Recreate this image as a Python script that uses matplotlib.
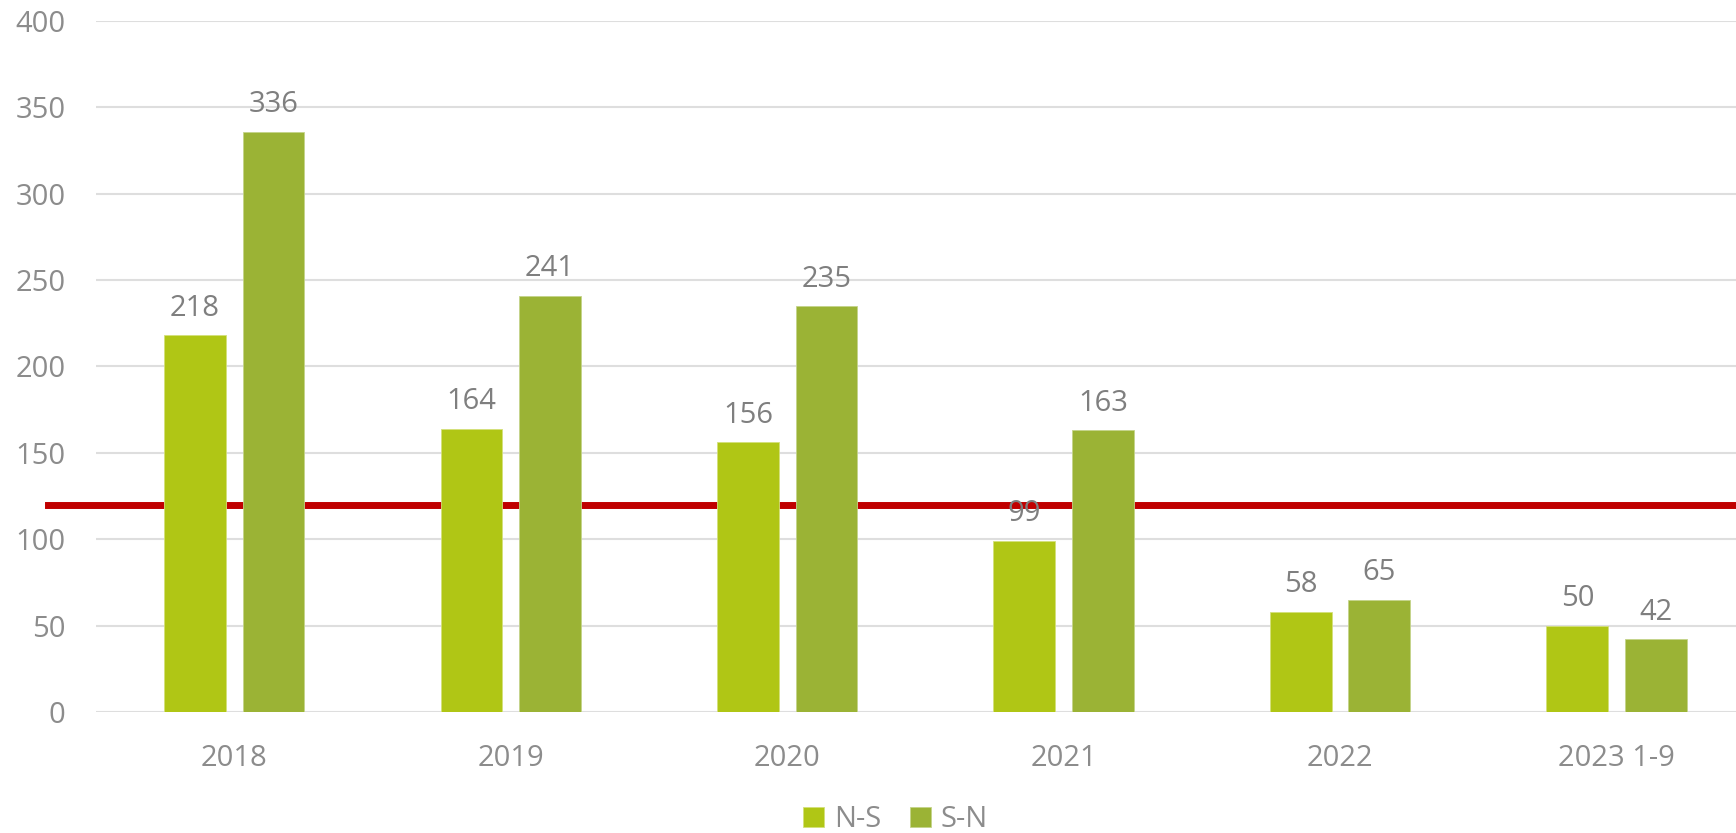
import matplotlib.pyplot as plt
import numpy as np

plt.rcParams['font.family'] = ['Open Sans', 'DejaVu Sans']

# Daten
years = ['2018', '2019', '2020', '2021', '2022', '2023 1-9']
ns = [218, 164, 156, 99, 58, 50]
sn = [336, 241, 235, 163, 65, 42]
limit = 120

c_ns = '#B0C615'
c_sn = '#9BB335'
grey = '#8C8C8C'

fig = plt.figure(figsize=(17.36, 8.33), dpi=100)
ax = fig.add_axes([0.0553, 0.1453, 0.9556, 0.8295])

x = np.arange(len(years))
w = 0.224
off = 0.142

b1 = ax.bar(x - off, ns, w, color=c_ns, edgecolor='#d4e07a', linewidth=0.6, label='N-S', zorder=3)
b2 = ax.bar(x + off, sn, w, color=c_sn, edgecolor='#c4d48a', linewidth=0.6, label='S-N', zorder=3)

# rote Linie
ax.axhline(limit, xmin=-0.029, xmax=1, color='#C00000', linewidth=5, zorder=2, clip_on=False)

for bars in (b1, b2):
    for r in bars:
        ax.annotate(f'{int(r.get_height())}', (r.get_x() + r.get_width() / 2, r.get_height()),
                    xytext=(0, 9), textcoords='offset points', ha='center', va='bottom',
                    fontsize=21, color='#7F7F7F', zorder=4)

ax.set_xlim(-0.5, 5.5)
ax.set_ylim(0, 400)
ax.set_yticks(range(0, 401, 50))
ax.set_xticks(x)
ax.set_xticklabels(years)
ax.grid(axis='y', color='#DEDEDE', linewidth=1.5, zorder=0)
ax.set_axisbelow(True)
for s in ax.spines.values():
    s.set_visible(False)
ax.tick_params(axis='both', length=0, labelsize=21, colors=grey)
ax.tick_params(axis='y', pad=22)
ax.tick_params(axis='x', pad=23)

fig.legend(handles=[b1, b2], loc='center', bbox_to_anchor=(0.516, 0.016), ncol=2, frameon=False,
           fontsize=21, labelcolor=grey, handlelength=0.7, handleheight=0.7, handletextpad=0.35,
           columnspacing=1.0)

fig.savefig('out.png', dpi=100)
